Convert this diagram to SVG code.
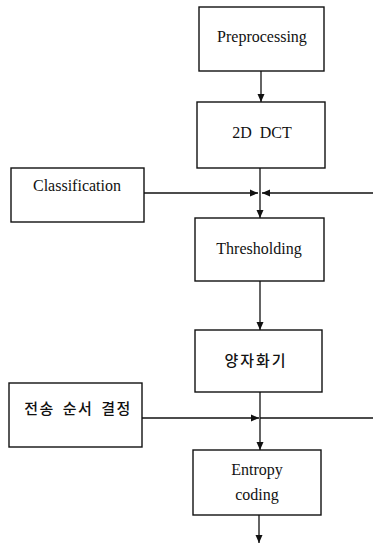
<svg xmlns="http://www.w3.org/2000/svg" width="373" height="545" viewBox="0 0 373 545">
<style>
.box{fill:#fff;stroke:#111;stroke-width:1.4}
.t{font-family:"Liberation Serif","Times New Roman",serif;font-size:16px;fill:#111;text-anchor:middle}
.k{font-family:"Noto Sans CJK KR","Noto Sans",sans-serif;font-size:15px;font-weight:500;fill:#111;text-anchor:middle}
.c{fill:none;stroke:#111;stroke-width:1.3}
</style>
<defs>
<marker id="ah" markerUnits="userSpaceOnUse" markerWidth="9" markerHeight="8" refX="8" refY="4" orient="auto">
<path d="M0,0.5 L8,4 L0,7.5 z" fill="#111"/>
</marker>
</defs>
<rect width="373" height="545" fill="#fff"/>
<g id="connectors">
<line class="c" x1="261" y1="71" x2="261" y2="102" marker-end="url(#ah)"/>
<line class="c" x1="260" y1="168" x2="260" y2="218" marker-end="url(#ah)"/>
<line class="c" x1="144" y1="193" x2="258" y2="193" marker-end="url(#ah)"/>
<line class="c" x1="373" y1="193" x2="262" y2="193" marker-end="url(#ah)"/>
<line class="c" x1="260" y1="281" x2="260" y2="330" marker-end="url(#ah)"/>
<line class="c" x1="260" y1="392" x2="260" y2="450" marker-end="url(#ah)"/>
<line class="c" x1="142" y1="418" x2="259" y2="418" marker-end="url(#ah)"/>
<line class="c" x1="260" y1="418" x2="373" y2="418"/>
<line class="c" x1="259" y1="515" x2="259" y2="543" marker-end="url(#ah)"/>
</g>
<g id="preprocessing">
<rect class="box" x="199" y="7" width="125" height="64"/>
<text class="t" x="262" y="42">Preprocessing</text>
</g>
<g id="dct">
<rect class="box" x="197" y="102" width="128" height="66"/>
<text class="t" x="262" y="138" word-spacing="4">2D DCT</text>
</g>
<g id="classification">
<rect class="box" x="11" y="168" width="133" height="54"/>
<text class="t" x="77" y="191">Classification</text>
</g>
<g id="thresholding">
<rect class="box" x="195" y="218" width="129" height="63"/>
<text class="t" x="259" y="254">Thresholding</text>
</g>
<g id="quantizer">
<rect class="box" x="195" y="330" width="127" height="62"/>
<text class="k" x="256" y="366" letter-spacing="2">양자화기</text>
</g>
<g id="order">
<rect class="box" x="9" y="383" width="133" height="64"/>
<text class="k" x="78" y="414" font-size="16" letter-spacing="1.5" word-spacing="3">전송 순서 결정</text>
</g>
<g id="entropy">
<rect class="box" x="193" y="450" width="128" height="65"/>
<text class="t" x="257" y="475">Entropy</text>
<text class="t" x="257" y="500">coding</text>
</g>
</svg>
